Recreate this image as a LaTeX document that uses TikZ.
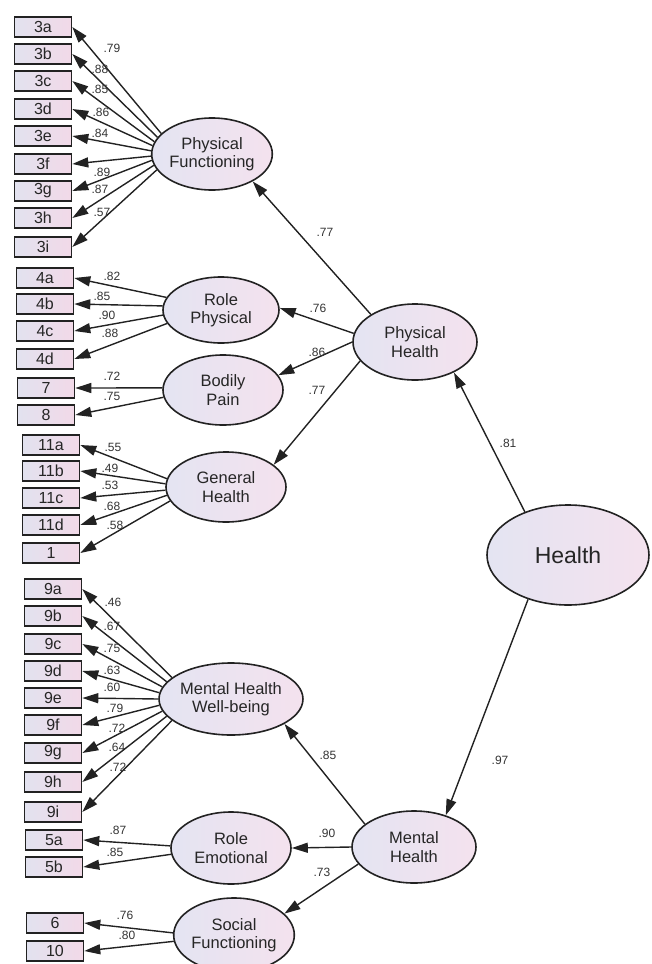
\documentclass[tikz,border=0pt]{standalone}
\usepackage{fontspec}
\setmainfont{Liberation Sans}
\usetikzlibrary{arrows.meta,shapes.geometric}

\definecolor{latL}{HTML}{E4E4F2}
\definecolor{latR}{HTML}{F4E2EE}
\definecolor{obsL}{HTML}{E2E2EF}
\definecolor{obsR}{HTML}{F2D9E8}
\definecolor{edgeC}{HTML}{222222}

\tikzset{
  obs/.style={draw=edgeC, line width=1.6pt, rectangle, minimum width=57pt, minimum height=20pt,
    inner sep=0pt, left color=obsL, right color=obsR, text=black!85, font=\fontsize{16}{16}\selectfont},
  lat/.style={draw=edgeC, line width=1.6pt, ellipse, inner sep=0pt, left color=latL,
    right color=latR, text=black!85, align=center, font=\fontsize{16.5}{18.5}\selectfont},
  load/.style={draw=edgeC, line width=1.4pt, -{Triangle[length=16pt,width=10pt]}},
  coef/.style={font=\fontsize{12}{12}\selectfont, text=black!80, inner sep=0pt},
}

\begin{document}
\begin{tikzpicture}[x=1pt,y=-1pt]
    \useasboundingbox (0,0) rectangle (651,964);

    % Latent variables
    \node[lat, minimum width=106pt, minimum height=72pt] (pf) at (212,154) {Physical\\Functioning};
    \node[lat, minimum width=116pt, minimum height=66pt] (rp) at (221,310) {Role\\Physical};
    \node[lat, minimum width=120pt, minimum height=70pt] (bp) at (223,390) {Bodily\\Pain};
    \node[lat, minimum width=120pt, minimum height=70pt] (gh) at (226,487) {General\\Health};
    \node[lat, minimum width=120pt, minimum height=72pt] (mhw) at (231,699) {Mental Health\\Well-being};
    \node[lat, minimum width=120pt, minimum height=72pt] (re) at (231,848) {Role\\Emotional};
    \node[lat, minimum width=118pt, minimum height=74pt] (sf) at (234,935) {Social\\Functioning};
    \node[lat, minimum width=124pt, minimum height=76pt] (ph) at (415,342) {Physical\\Health};
    \node[lat, minimum width=124pt, minimum height=72pt] (mh) at (414,847) {Mental\\Health};
    \node[lat, minimum width=162pt, minimum height=100pt, font=\fontsize{23}{23}\selectfont] (health) at (568,555) {Health};

    % Observed items
    \foreach \n/\y in {3a/27,3b/54,3c/81,3d/109,3e/136,3f/164,3g/191,3h/218,3i/247}
        \node[obs] (b\n) at (43,\y) {\n};
    \foreach \n/\y in {4a/278,4b/304,4c/331,4d/359}
        \node[obs] (b\n) at (45,\y) {\n};
    \foreach \n/\y in {7/388,8/415}
        \node[obs] (b\n) at (46,\y) {\n};
    \foreach \n/\y in {11a/445,11b/471,11c/498,11d/525,1/553}
        \node[obs] (b\n) at (51,\y) {\n};
    \foreach \n/\y in {9a/589,9b/616,9c/644,9d/671,9e/698,9f/725,9g/753,9h/782,9i/812}
        \node[obs] (b\n) at (53,\y) {\n};
    \foreach \n/\y in {5a/840,5b/867}
        \node[obs] (b\n) at (54,\y) {\n};
    \foreach \n/\y in {6/923,10/951}
        \node[obs] (b\n) at (55,\y) {\n};

    % Loadings
    \foreach \n/\a in {3a/158,3b/163,3c/168,3d/172,3e/177,3f/182,3g/186,3h/191,3i/196}
        \draw[load] (pf.\a) -- (b\n.east);
    \foreach \n/\a in {4a/167,4b/176,4c/185,4d/194}
        \draw[load] (rp.\a) -- (b\n.east);
    \foreach \n/\a in {7/178,8/187}
        \draw[load] (bp.\a) -- (b\n.east);
    \foreach \n/\a in {11a/172,11b/177,11c/183,11d/188,1/194}
        \draw[load] (gh.\a) -- (b\n.east);
    \foreach \n/\a in {9a/160,9b/165,9c/170,9d/175,9e/180,9f/185,9g/190,9h/195,9i/200}
        \draw[load] (mhw.\a) -- (b\n.east);
    \foreach \n/\a in {5a/178,5b/186}
        \draw[load] (re.\a) -- (b\n.east);
    \foreach \n/\a in {6/178,10/186}
        \draw[load] (sf.\a) -- (b\n.east);

    % Structural paths
    \draw[load] (ph.148) -- (pf.326);
    \draw[load] (ph.172) -- (rp.2);
    \draw[load] (ph.180) -- (bp.15);
    \draw[load] (ph.199) -- (gh.25);
    \draw[load] (health.135) -- (ph.322);
    \draw[load] (health.228) -- (mh.45);
    \draw[load] (mh.155) -- (mhw.335);
    \draw[load] (mh.180) -- (re.0);
    \draw[load] (mh.197) -- (sf.23);

    % Coefficients
    \foreach \n/\v/\x/\y in {3a/.79/112/48, 3b/.88/100/69, 3c/.85/100/89, 3d/.86/101/112,
        3e/.84/100/133, 3f/.89/102/172, 3g/.87/100/189, 3h/.57/102/212,
        4a/.82/112/276, 4b/.85/102/296, 4c/.90/107/315, 4d/.88/110/333,
        7/.72/112/376, 8/.75/112/396,
        11a/.55/113/447, 11b/.49/110/468, 11c/.53/110/485, 11d/.68/112/506, 1/.58/115/525,
        9a/.46/113/602, 9b/.67/112/626, 9c/.75/112/648, 9d/.63/112/670, 9e/.60/112/687,
        9f/.79/115/708, 9g/.72/117/728, 9h/.64/117/747, 9i/.72/118/767,
        5a/.87/118/830, 5b/.85/115/852, 6/.76/125/915, 10/.80/127/935}
        \node[coef] (c\n) at (\x,\y) {\v};
    \node[coef] (cpf) at (325,232) {.77};
    \node[coef] (crp) at (318,308) {.76};
    \node[coef] (cbp) at (317,352) {.86};
    \node[coef] (cgh) at (317,390) {.77};
    \node[coef] (cph) at (508,443) {.81};
    \node[coef] (cmh) at (500,760) {.97};
    \node[coef] (cmhw) at (328,755) {.85};
    \node[coef] (cre) at (327,833) {.90};
    \node[coef] (csf) at (322,872) {.73};
\end{tikzpicture}
\end{document}
